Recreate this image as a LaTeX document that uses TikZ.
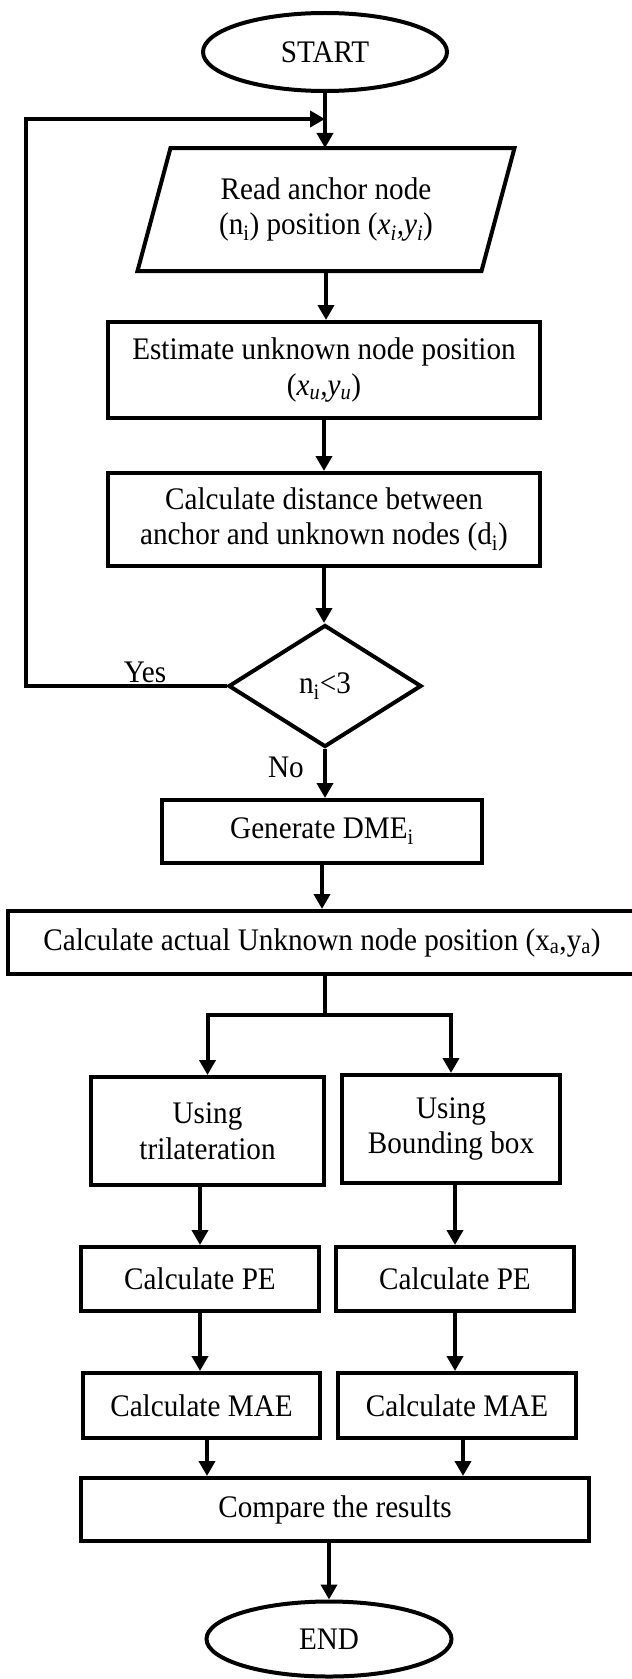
\documentclass[tikz,border=0pt]{standalone}
\usepackage{fontspec}
\setmainfont[FakeStretch=0.93]{Liberation Serif}
\usetikzlibrary{shapes.geometric,arrows.meta}

\begin{document}
\begin{tikzpicture}[x=1bp,y=-1bp,
  line width=4bp,
  every node/.style={font=\fontsize{31.5}{36}\selectfont, align=center, inner sep=0pt},
  box/.style={draw, rectangle, line width=4bp},
  oval/.style={draw, ellipse, line width=4bp},
  decision/.style={draw, diamond, line width=4bp},
  arr/.style={-{Triangle[length=15bp,width=16bp]}},
  lbl/.style={font=\fontsize{31.5}{36}\selectfont}]

  % page area
  \fill[white] (0,0) rectangle (632,1679);
  \useasboundingbox (0,0) rectangle (632,1679);

  % main column
  \node[oval, minimum width=244bp, minimum height=78bp] (start) at (325,52) {START};
  \node[minimum width=340bp, minimum height=119bp] (read) at (326,209.5)
    {Read anchor node\\(n\textsubscript{i}) position (\textit{x\textsubscript{i},y\textsubscript{i}})};
  \draw ([xshift=16.5bp]read.north west) -- ([xshift=16.5bp]read.north east)
     -- ([xshift=-16.5bp]read.south east) -- ([xshift=-16.5bp]read.south west) -- cycle;
  \node[box, minimum width=432bp, minimum height=96bp] (est) at (324,370)
    {Estimate unknown node position\\(\textit{x\textsubscript{u},y\textsubscript{u}})};
  \node[box, minimum width=432bp, minimum height=93bp] (dist) at (324,519.5)
    {Calculate distance between\\anchor and unknown nodes (d\textsubscript{i})};
  \node[decision, minimum width=193bp, minimum height=122bp] (dec) at (325,686) {n\textsubscript{i}<3};
  \node[box, minimum width=320bp, minimum height=63bp] (gen) at (322,831.5) {Generate DME\textsubscript{i}};
  \node[box, minimum width=628bp, minimum height=63bp] (calc) at (322,942.5)
    {Calculate actual Unknown node position (x\textsubscript{a},y\textsubscript{a})};

  % two branches
  \node[box, minimum width=233bp, minimum height=108bp] (tri) at (207.5,1131) {Using\\trilateration};
  \node[box, minimum width=218bp, minimum height=108bp] (bb) at (451,1129) {Using\\Bounding box};
  \node[box, minimum width=238bp, minimum height=64bp] (pe1) at (200,1279) {Calculate PE};
  \node[box, minimum width=238bp, minimum height=64bp] (pe2) at (455,1279) {Calculate PE};
  \node[box, minimum width=237bp, minimum height=65bp] (mae1) at (201.5,1405.5) {Calculate MAE};
  \node[box, minimum width=238bp, minimum height=65bp] (mae2) at (457,1405.5) {Calculate MAE};
  \node[box, minimum width=508bp, minimum height=63bp] (cmp) at (335,1509.5) {Compare the results};
  \node[oval, minimum width=245bp, minimum height=75bp] (end) at (329,1639) {END};

  % labels
  \node[lbl] (yes) at (145,672) {Yes};
  \node[lbl] (no) at (286,767) {No};

  % helper points
  \coordinate (join) at (325,119);
  \coordinate (rail) at (26,119);
  \coordinate (split) at (325,1015);

  % connectors
  \draw[arr] (start.south) -- (start.south |- read.north);
  \draw[arr] (dec.west) -| (rail) -- (join);
  \draw[arr] (read.south) -- (read.south |- est.north);
  \draw[arr] (est.south) -- (est.south |- dist.north);
  \draw[arr] (dist.south) -- (dist.south |- dec.north);
  \draw[arr] (dec.south) -- (dec.south |- gen.north);
  \draw[arr] (gen.south) -- (gen.south |- calc.north);
  \draw (calc.south -| split) -- (split);
  \draw[arr] (split) -| (tri.north);
  \draw[arr] (split) -| (bb.north);
  \draw[arr] (tri.south -| pe1.north) -- (pe1.north);
  \draw[arr] (bb.south -| pe2.north) -- (pe2.north);
  \draw[arr] (pe1.south) -- (pe1.south |- mae1.north);
  \draw[arr] (pe2.south) -- (pe2.south |- mae2.north);
  \draw[arr] ([xshift=5.5bp]mae1.south) -- ([xshift=5.5bp]mae1.south |- cmp.north);
  \draw[arr] ([xshift=6bp]mae2.south) -- ([xshift=6bp]mae2.south |- cmp.north);
  \draw[arr] (cmp.south -| end.north) -- (end.north);
\end{tikzpicture}
\end{document}
